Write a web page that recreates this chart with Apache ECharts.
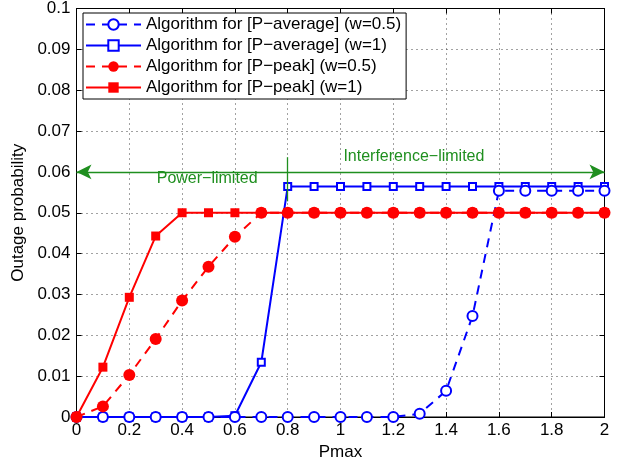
<!DOCTYPE html>
<html>
<head>
<meta charset="utf-8">
<script src="https://cdn.jsdelivr.net/npm/echarts@6/dist/echarts.min.js"></script>
<style>html,body{margin:0;padding:0;background:#fff;}#c{width:627px;height:466px;}</style>
</head>
<body>
<div id="c"></div>
<script>
var pmax = [0,0.1,0.2,0.3,0.4,0.5,0.6,0.7,0.8,0.9,1.0,1.1,1.2,1.3,1.4,1.5,1.6,1.7,1.8,1.9,2.0];
var avgW05 = [0,0,0,0,0,0,0,0,0,0,0,0,0,0.0008,0.0064,0.0247,0.0554,0.0554,0.0554,0.0554,0.0554];
var avgW1  = [0,0,0,0,0,0,0.0003,0.0134,0.0564,0.0564,0.0564,0.0564,0.0564,0.0564,0.0564,0.0564,0.0564,0.0564,0.0564,0.0564,0.0564];
var peakW05 = [0,0.0026,0.0103,0.0191,0.0285,0.0368,0.0441,0.05,0.05,0.05,0.05,0.05,0.05,0.05,0.05,0.05,0.05,0.05,0.05,0.05,0.05];
var peakW1  = [0,0.0122,0.0293,0.0443,0.05,0.05,0.05,0.05,0.05,0.05,0.05,0.05,0.05,0.05,0.05,0.05,0.05,0.05,0.05,0.05,0.05];
var names = ['Algorithm for [P\u2212average] (w=0.5)','Algorithm for [P\u2212average] (w=1)','Algorithm for [P\u2212peak] (w=0.5)','Algorithm for [P\u2212peak] (w=1)'];
var regionLine = [[0,0.06],[2,0.06]];
var boundaryLine = [[0.8,0.0636],[0.8,0.0528]];
var regionLabels = [{text:'Power\u2212limited', x:0.495, y:0.0583},{text:'Interference\u2212limited', x:1.278, y:0.0637}];

function pairs(v){ return pmax.map(function(x,i){ return [x, v[i]]; }); }
var FONT = 'Liberation Sans, Arial, sans-serif';
var green = '#1f8f1f';
var blue = '#0000ff', red = '#ff0000';

var chart = echarts.init(document.getElementById('c'), null, {renderer:'canvas'});
var option = {
  animation: false,
  backgroundColor: '#fff',
  textStyle: {fontFamily: FONT},
  grid: {left: 76.5, right: 22.5, top: 5, bottom: 49, show: true, borderColor: '#000', borderWidth: 1, containLabel: false},
  legend: {
    orient: 'vertical', left: 83, top: 13,
    data: names,
    itemWidth: 55, itemHeight: 13, itemGap: 4,
    padding: [3, 5, 3, 2],
    backgroundColor: '#fff', borderColor: '#000', borderWidth: 1,
    textStyle: {fontSize: 17, color: '#000', fontFamily: FONT}
  },
  xAxis: [{
    type: 'value', min: 0, max: 2, interval: 0.2,
    name: 'Pmax', nameLocation: 'middle', nameGap: 26,
    nameTextStyle: {fontSize: 17, color: '#000', fontFamily: FONT},
    axisLine: {show: true, onZero: false, lineStyle: {color: '#000'}},
    axisTick: {show: true, inside: true, length: 5, lineStyle: {color: '#000'}},
    axisLabel: {fontSize: 17, color: '#000', margin: 5, fontFamily: FONT},
    splitLine: {show: true, lineStyle: {color: '#444', type: [1,4], width: 1}}
  },{
    type: 'value', min: 0, max: 2, interval: 0.2, position: 'top',
    axisLine: {show: true, onZero: false, lineStyle: {color: '#000'}},
    axisTick: {show: true, inside: true, length: 5, lineStyle: {color: '#000'}},
    axisLabel: {show: false}, splitLine: {show: false}
  }],
  yAxis: [{
    type: 'value', min: 0, max: 0.1, interval: 0.01,
    name: 'Outage probability', nameLocation: 'middle', nameGap: 47,
    nameTextStyle: {fontSize: 17, color: '#000', fontFamily: FONT},
    axisLine: {show: true, onZero: false, lineStyle: {color: '#000'}},
    axisTick: {show: true, inside: true, length: 5, lineStyle: {color: '#000'}},
    axisLabel: {fontSize: 17, color: '#000', margin: 6, fontFamily: FONT},
    splitLine: {show: true, lineStyle: {color: '#444', type: [1,4], width: 1}}
  },{
    type: 'value', min: 0, max: 0.1, interval: 0.01, position: 'right',
    axisLine: {show: true, onZero: false, lineStyle: {color: '#000'}},
    axisTick: {show: true, inside: true, length: 5, lineStyle: {color: '#000'}},
    axisLabel: {show: false}, splitLine: {show: false}
  }],
  series: [
    {
      name: names[1], type: 'line', data: pairs(avgW1),
      symbol: 'emptyRect', symbolSize: 7, showAllSymbol: true,
      lineStyle: {color: blue, width: 2, type: 'solid'},
      itemStyle: {color: blue, borderColor: blue, borderWidth: 1.6},
      z: 2
    },
    {
      name: names[0], type: 'line', data: pairs(avgW05),
      symbol: 'emptyCircle', symbolSize: 10, showAllSymbol: true,
      lineStyle: {color: blue, width: 2, type: [9,7]},
      itemStyle: {color: blue, borderColor: blue, borderWidth: 2},
      z: 3
    },
    {
      name: names[3], type: 'line', data: pairs(peakW1),
      symbol: 'rect', symbolSize: 9, showAllSymbol: true,
      lineStyle: {color: red, width: 2, type: 'solid'},
      itemStyle: {color: red},
      z: 4
    },
    {
      name: names[2], type: 'line', data: pairs(peakW05),
      symbol: 'circle', symbolSize: 12, showAllSymbol: true,
      lineStyle: {color: red, width: 2, type: [9,7]},
      itemStyle: {color: red},
      z: 5
    },
    {
      name: 'annot', type: 'line', data: [], silent: true, z: 6,
      markLine: {
        silent: true, animation: false,
        lineStyle: {color: green, width: 1.3, type: 'solid'},
        label: {show: false},
        data: [
          [{coord: regionLine[0], symbol: 'arrow', symbolSize: [11, 15]}, {coord: regionLine[1], symbol: 'arrow', symbolSize: [11, 15]}],
          [{coord: boundaryLine[0], symbol: 'none'}, {coord: boundaryLine[1], symbol: 'none'}]
        ]
      },
      markPoint: {
        silent: true, animation: false,
        symbol: 'circle', symbolSize: 0,
        label: {show: true, position: 'inside', color: green, fontSize: 16, fontFamily: FONT, formatter: function(p){ return p.name; }},
        data: regionLabels.map(function(l){ return {name: l.text, coord: [l.x, l.y]}; })
      }
    }
  ]
};
chart.setOption(option);
</script>
</body>
</html>
